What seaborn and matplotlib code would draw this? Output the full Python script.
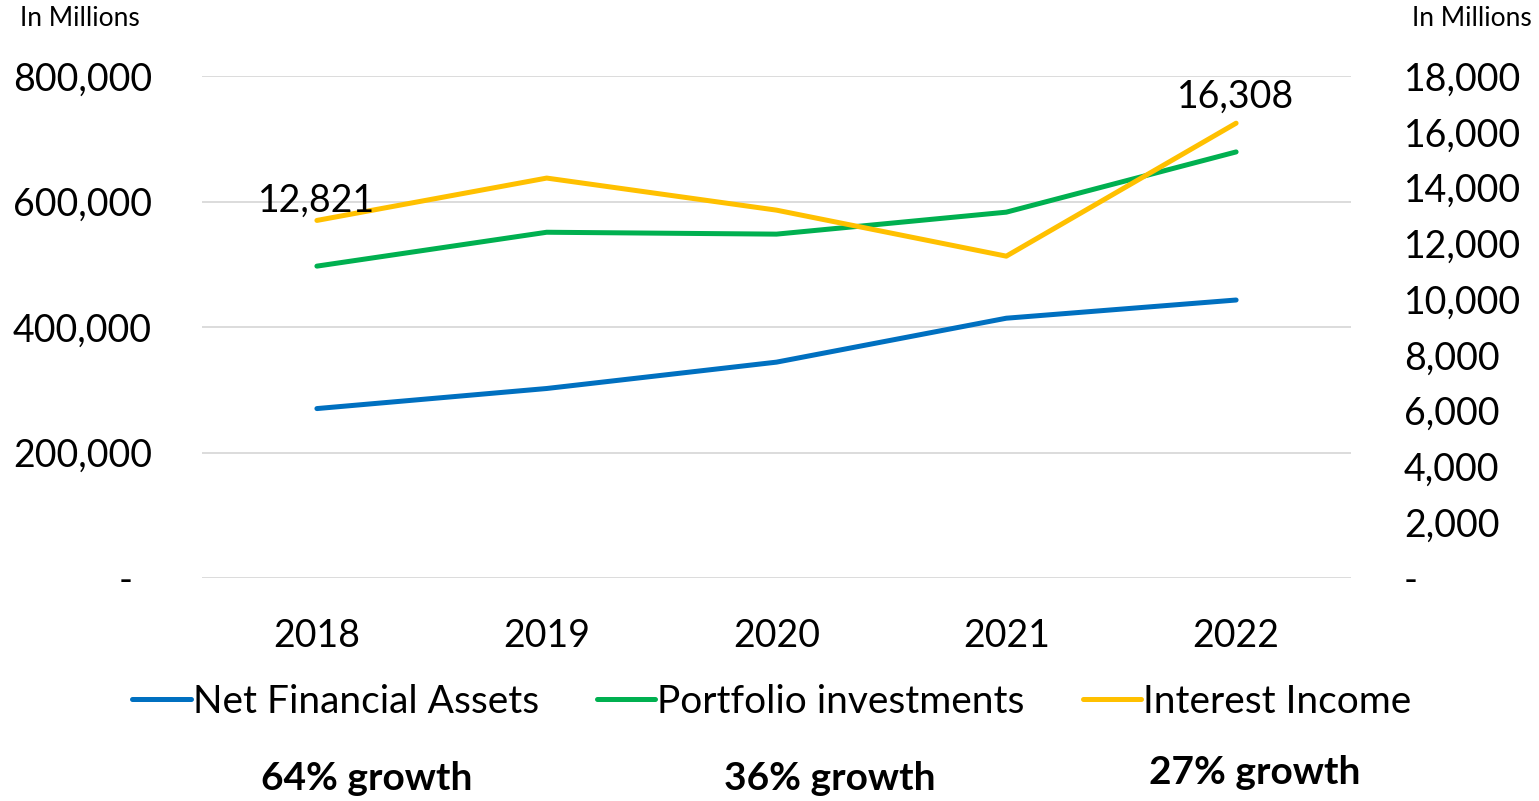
import matplotlib
matplotlib.use("Agg")
import matplotlib.pyplot as plt
import seaborn as sns
import pandas as pd
from matplotlib.ticker import FuncFormatter

years = ["2018", "2019", "2020", "2021", "2022"]
net_financial_assets = [270000, 302000, 344000, 414000, 443000]
portfolio_investments = [497000, 551000, 548000, 583000, 679000]
interest_income = [12821, 14340, 13190, 11540, 16308]
growth_labels = ["64% growth", "36% growth", "27% growth"]

sns.set_theme(style="white")
plt.rcParams["font.family"] = ["Lato", "DejaVu Sans"]
plt.rcParams["text.color"] = "black"
plt.rcParams["xtick.color"] = "black"
plt.rcParams["ytick.color"] = "black"

BLUE, GREEN, GOLD = "#0070C0", "#00B050", "#FFC000"

df = pd.DataFrame({
    "year": years,
    "Net Financial Assets": net_financial_assets,
    "Portfolio investments": portfolio_investments,
    "Interest Income": interest_income,
})
df["x"] = range(len(years))

fig = plt.figure(figsize=(15.39, 8.01), dpi=100)
ax = fig.add_axes([202 / 1539, 1 - 578 / 801, (1351 - 202) / 1539, (578 - 76) / 801])
ax2 = ax.twinx()

lw = 3.6
sns.lineplot(data=df, x="x", y="Net Financial Assets", ax=ax, color=BLUE, lw=lw,
             solid_capstyle="round", label="Net Financial Assets", legend=False)
sns.lineplot(data=df, x="x", y="Portfolio investments", ax=ax, color=GREEN, lw=lw,
             solid_capstyle="round", label="Portfolio investments", legend=False)
sns.lineplot(data=df, x="x", y="Interest Income", ax=ax2, color=GOLD, lw=lw,
             solid_capstyle="round", label="Interest Income", legend=False)

ax.set_xlim(-0.5, 4.5)
ax.set_ylim(0, 800000)
ax2.set_ylim(0, 18000)
ax.set_yticks(range(0, 800001, 200000))
ax2.set_yticks(range(0, 18001, 2000))
ax.set_xticks(df["x"])
ax.set_xticklabels(years)

# accounting-style labels: zero shown as a dash
ax.yaxis.set_major_formatter(FuncFormatter(lambda v, p: "-  " if v == 0 else f"{int(v):,}"))
ax2.yaxis.set_major_formatter(FuncFormatter(lambda v, p: "-" if v == 0 else f"{int(v):,}"))

ax.grid(axis="y", color="#D9D9D9", lw=1.3)
ax.set_axisbelow(True)
for a in (ax, ax2):
    for s in a.spines.values():
        s.set_visible(False)
    a.set_xlabel("")
    a.set_ylabel("")
ax.tick_params(axis="y", labelsize=27, length=0, pad=36)
ax.tick_params(axis="x", labelsize=27, length=0, pad=29)
ax2.tick_params(axis="y", labelsize=27, length=0, pad=38)
for t in ax.get_yticklabels():
    t.set_horizontalalignment("right")
for t in ax2.get_yticklabels():
    t.set_horizontalalignment("left")

# value labels at the first and last interest-income points
ax2.annotate(f"{interest_income[0]:,}", (0, interest_income[0]), xytext=(0, 14),
             textcoords="offset points", ha="center", va="center", fontsize=27)
ax2.annotate(f"{interest_income[-1]:,}", (4, interest_income[-1]), xytext=(0, 19),
             textcoords="offset points", ha="center", va="center", fontsize=27)

fig.text(20 / 1539, 1 - 18 / 801, "In Millions", fontsize=19, ha="left", va="center")
fig.text(1532 / 1539, 1 - 18 / 801, "In Millions", fontsize=19, ha="right", va="center")

handles = ax.get_lines()[:2] + ax2.get_lines()[:1]
fig.legend(handles, [h.get_label() for h in handles], loc="center",
           bbox_to_anchor=(772 / 1539, 1 - 702 / 801), ncol=3, frameon=False,
           fontsize=28, handlelength=1.5, handletextpad=0.05, columnspacing=1.5)

for xpos, ypos, txt in zip([367, 830, 1255], [778, 778, 773], growth_labels):
    fig.text(xpos / 1539, 1 - ypos / 801, txt, fontsize=28, fontweight="bold",
             ha="center", va="center")

fig.savefig("out.png", dpi=100)
